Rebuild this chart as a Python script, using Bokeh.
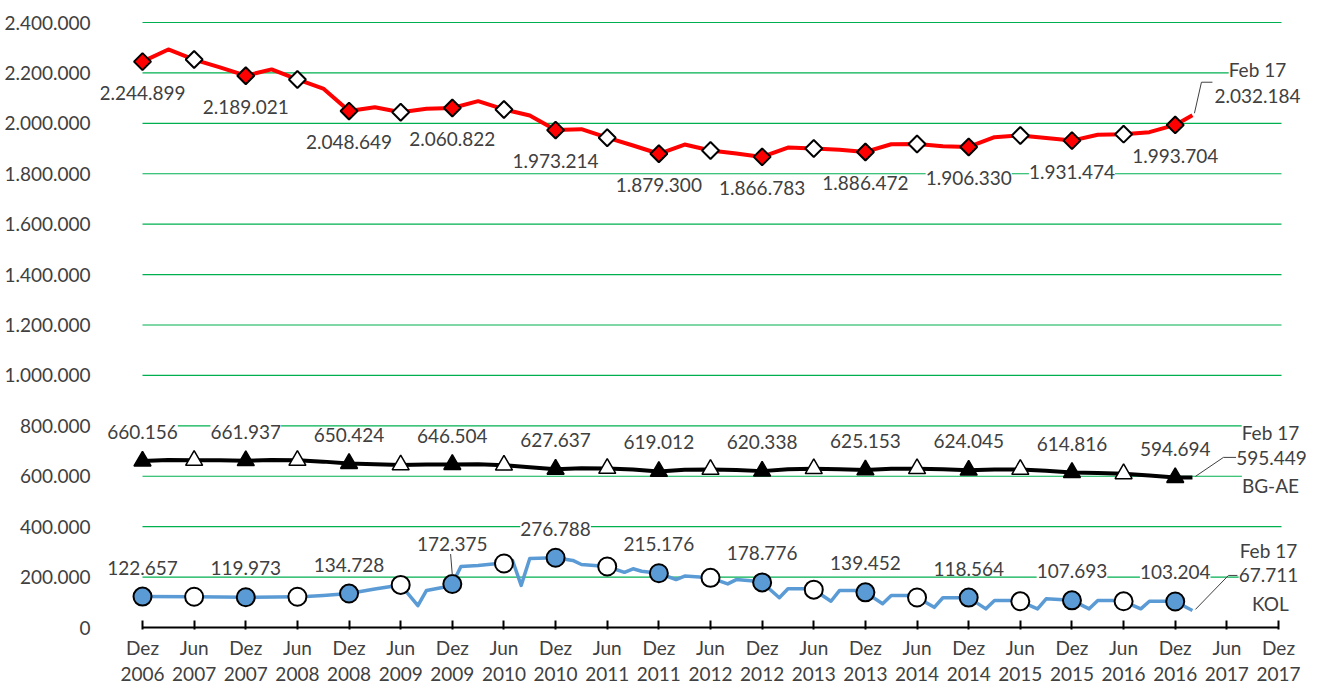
import math
from bokeh.plotting import figure
from bokeh.models import ColumnDataSource, LabelSet, Label, FixedTicker, Range1d
from bokeh.core.properties import value
from bokeh.embed import file_html
from bokeh.resources import INLINE

# ---------------- data ----------------
x_ticks = [0, 6, 12, 18, 24, 30, 36, 42, 48, 54, 60, 66, 72, 78, 84, 90, 96, 102, 108, 114, 120, 126, 132]
x_tick_labels = ["Dez\n2006", "Jun\n2007", "Dez\n2007", "Jun\n2008", "Dez\n2008", "Jun\n2009",
                 "Dez\n2009", "Jun\n2010", "Dez\n2010", "Jun\n2011", "Dez\n2011", "Jun\n2012",
                 "Dez\n2012", "Jun\n2013", "Dez\n2013", "Jun\n2014", "Dez\n2014", "Jun\n2015",
                 "Dez\n2015", "Jun\n2016", "Dez\n2016", "Jun\n2017", "Dez\n2017"]
y_ticks = [0, 200000, 400000, 600000, 800000, 1000000, 1200000, 1400000, 1600000,
           1800000, 2000000, 2200000, 2400000]
y_tick_labels = ["0", "200.000", "400.000", "600.000", "800.000", "1.000.000", "1.200.000",
                 "1.400.000", "1.600.000", "1.800.000", "2.000.000", "2.200.000", "2.400.000"]

# months after Dez 2006
total_months = [0, 3, 6, 9, 12, 15, 18, 21, 24, 27, 30, 33, 36, 39, 42, 45, 48, 51, 54, 57, 60,
                63, 66, 69, 72, 75, 78, 81, 84, 87, 90, 93, 96, 99, 102, 105, 108, 111, 114,
                117, 120, 122]
total_values = [2244899, 2293000, 2253000, 2222000, 2189021, 2214000, 2174000, 2138000,
                2048649, 2064000, 2044000, 2058000, 2060822, 2088000, 2055000, 2031000,
                1973214, 1977000, 1943000, 1912000, 1879300, 1916000, 1892000, 1880000,
                1866783, 1904000, 1900000, 1895000, 1886472, 1917000, 1918000, 1909000,
                1906330, 1945000, 1952000, 1942000, 1931474, 1955000, 1957000, 1965000,
                1993704, 2032184]

bgae_months = total_months
bgae_values = [660156, 664000, 663000, 663000, 661937, 664000, 663000, 658000, 650424,
               648000, 645000, 647000, 646504, 648000, 644000, 636000, 627637, 632000,
               631000, 627000, 619012, 626000, 627000, 625000, 620338, 628000, 630000,
               628000, 625153, 630000, 630000, 628000, 624045, 627000, 627000, 622000,
               614816, 613000, 610000, 603000, 594694, 595449]

kol_months = [0, 6, 12, 18, 19, 21, 24, 27, 30, 32, 33, 35, 36, 37, 39, 41, 42, 43, 44, 45,
              48, 50, 51, 54, 56, 57, 58, 60, 62, 63, 66, 68, 69, 71, 72, 74, 75, 77, 78,
              80, 81, 83, 84, 86, 87, 89, 90, 92, 93, 95, 96, 98, 99, 101, 102, 104, 105,
              107, 108, 110, 111, 113, 114, 116, 117, 119, 120, 122]
kol_values = [122657, 122000, 119973, 122000, 123000, 127000, 134728, 153000, 169000, 87000,
              147000, 160000, 172375, 242000, 246000, 253000, 254000, 266000, 167000, 274000,
              276788, 266000, 250000, 242000, 219000, 233000, 223000, 215176, 190000, 204000,
              197000, 173000, 190000, 184000, 178776, 118000, 154000, 154000, 150000, 104000,
              147000, 147000, 139452, 94000, 127000, 127000, 119000, 80000, 118000, 118000,
              118564, 74000, 107000, 107000, 104000, 74000, 114000, 110000, 107693, 74000,
              107000, 107000, 104000, 74000, 104000, 104000, 103204, 67711]

dez_months = [0, 12, 24, 36, 48, 60, 72, 84, 96, 108, 120]
jun_months = [6, 18, 30, 42, 54, 66, 78, 90, 102, 114]
end_date_label = "Feb 17"
series_names = ["BG-AE", "KOL"]

# ---------------- layout / styling ----------------
FONT = "Lato"
FS = "19px"
TXT = "#404040"
X_MAX, Y_MAX = 132, 2400000
PX_PER_MONTH = 1136 / X_MAX          # Dez 2006 .. Dez 2017 spans 1136 px
UNITS_PER_PX = Y_MAX / 605           # 0 .. 2.400.000 spans 605 px
X_START = -42 / PX_PER_MONTH         # extra room so labels are not clipped
X_END = X_MAX + 42 / PX_PER_MONTH
Y_START = -2 * UNITS_PER_PX
Y_END = Y_MAX + 18 * UNITS_PER_PX


def de(v):
    return f"{v:,}".replace(",", ".")


p = figure(width=1320, height=688, output_backend="svg", toolbar_location=None,
           x_range=Range1d(X_START, X_END), y_range=Range1d(Y_START, Y_END),
           min_border_left=100, min_border_right=0, min_border_top=4, min_border_bottom=59)
p.outline_line_color = None
p.background_fill_color = "white"
p.xgrid.visible = False
p.ygrid.visible = False

p.xaxis.ticker = FixedTicker(ticks=x_ticks)
p.xaxis.major_label_overrides = {t: l for t, l in zip(x_ticks, x_tick_labels)}
p.xaxis.axis_line_color = None
p.xaxis.major_tick_in = 9
p.xaxis.major_tick_out = 0
p.xaxis.major_tick_line_width = 2
p.xaxis.major_tick_line_color = "black"
p.xaxis.minor_tick_line_color = None
p.xaxis.major_label_standoff = 6
p.xaxis.major_label_text_font = FONT
p.xaxis.major_label_text_font_size = FS
p.xaxis.major_label_text_color = TXT
p.xaxis.major_label_text_line_height = 1.15

p.yaxis.ticker = FixedTicker(ticks=y_ticks)
p.yaxis.major_label_overrides = {t: l for t, l in zip(y_ticks, y_tick_labels)}
p.yaxis.axis_line_color = None
p.yaxis.major_tick_line_color = None
p.yaxis.minor_tick_line_color = None
p.yaxis.major_label_standoff = 4
p.yaxis.major_label_text_font = FONT
p.yaxis.major_label_text_font_size = FS
p.yaxis.major_label_text_color = TXT

# horizontal green gridlines and black category axis line
grid_end = X_MAX + 3 / PX_PER_MONTH
p.segment(x0=[0] * (len(y_ticks) - 1), x1=[grid_end] * (len(y_ticks) - 1),
          y0=y_ticks[1:], y1=y_ticks[1:], line_color="#00B050", line_width=1.2)
p.segment(x0=[0], x1=[X_MAX], y0=[0], y1=[0], line_color="black", line_width=2)


def pick(months, values, sel):
    d = dict(zip(months, values))
    return [d[m] for m in sel]


def add_labels(months, values, offset):
    src = ColumnDataSource(dict(x=months, y=values, t=[de(v) for v in values], off=offset))
    p.add_layout(LabelSet(x="x", y="y", text="t", y_offset="off", source=src,
                          text_align="center", text_baseline="middle",
                          text_font=value(FONT), text_font_size=value(FS), text_color=TXT,
                          background_fill_color="white"))


def end_note(months, values, leader, lines):
    m0, v0 = months[-1], values[-1]
    xs = [m0 + dx / PX_PER_MONTH for dx, dy in leader]
    ys = [v0 + dy * UNITS_PER_PX for dx, dy in leader]
    p.line(xs, ys, line_color="#404040", line_width=1)
    for text, dx, dy in lines:
        p.add_layout(Label(x=m0, y=v0, x_offset=dx, y_offset=dy, text=text,
                           text_align="center", text_baseline="middle",
                           text_font=FONT, text_font_size=FS, text_color=TXT,
                           background_fill_color="white"))


# ---- total (red) ----
p.line(total_months, total_values, line_color="#FF0000", line_width=4, line_join="round")
p.scatter(dez_months, pick(total_months, total_values, dez_months), marker="square",
          angle=math.pi / 4, size=12, fill_color="#FF0000", line_color="black", line_width=2)
p.scatter(jun_months, pick(total_months, total_values, jun_months), marker="square",
          angle=math.pi / 4, size=12, fill_color="white", line_color="black", line_width=2)
add_labels(dez_months, pick(total_months, total_values, dez_months), [-31] * len(dez_months))

# ---- BG-AE (black) ----
p.line(bgae_months, bgae_values, line_color="black", line_width=4, line_join="round")
p.scatter(dez_months, pick(bgae_months, bgae_values, dez_months), marker="triangle",
          size=17, fill_color="black", line_color="black", line_width=1.5)
p.scatter(jun_months, pick(bgae_months, bgae_values, jun_months), marker="triangle",
          size=17, fill_color="white", line_color="black", line_width=1.5)
add_labels(dez_months, pick(bgae_months, bgae_values, dez_months), [29] * len(dez_months))

# ---- KOL (blue) ----
p.line(kol_months, kol_values, line_color="#5B9BD5", line_width=3.5, line_join="round")
p.scatter(dez_months, pick(kol_months, kol_values, dez_months), marker="circle",
          size=18, fill_color="#5B9BD5", line_color="black", line_width=2)
p.scatter(jun_months, pick(kol_months, kol_values, jun_months), marker="circle",
          size=18, fill_color="white", line_color="black", line_width=2)
kol_off = [29] * len(dez_months)
kol_off[3] = 40
add_labels(dez_months, pick(kol_months, kol_values, dez_months), kol_off)
# leader line for the Dez 2009 label
m9 = dez_months[3]
v9 = pick(kol_months, kol_values, [m9])[0]
p.line([m9, m9 - 0.2], [v9 + 9 * UNITS_PER_PX, v9 + 30 * UNITS_PER_PX],
       line_color="#404040", line_width=1)

# ---- end notes ----
end_note(total_months, total_values, [(2, 2), (9, 33), (20, 33)],
         [(end_date_label, 65, 46), (de(total_values[-1]), 65, 19)])
end_note(bgae_months, bgae_values, [(3, 1), (31, 20), (44, 20)],
         [(end_date_label, 78, 45), (de(bgae_values[-1]), 79, 19), (series_names[0], 78, -8)])
end_note(kol_months, kol_values, [(3, 1), (36, 35), (45, 35)],
         [(end_date_label, 76, 60), (de(kol_values[-1]), 76, 35), (series_names[1], 78, 7)])

open("out.html", "w").write(file_html(p, INLINE))
